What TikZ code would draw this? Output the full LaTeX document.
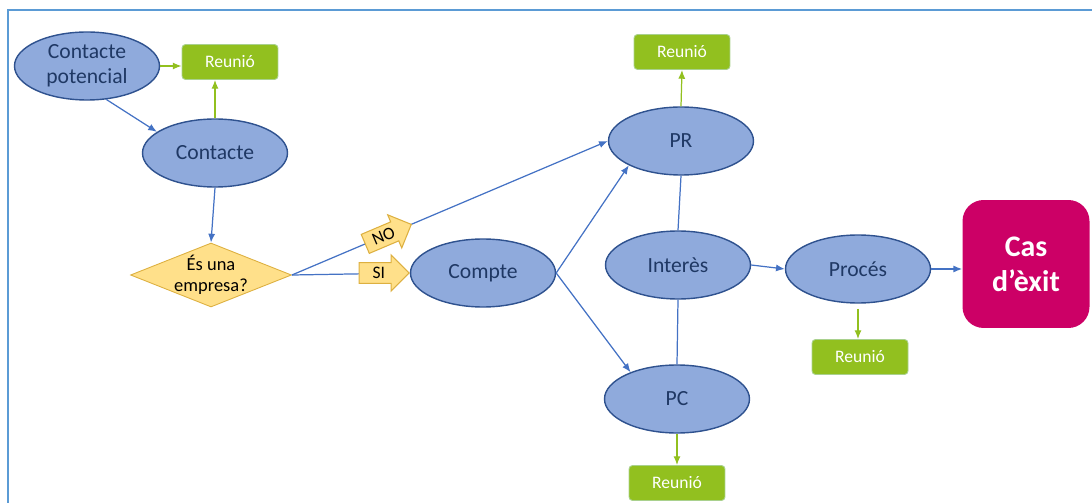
\documentclass[tikz,border=0pt]{standalone}
\usepackage{fontspec}
\setmainfont{Carlito}
\usetikzlibrary{shapes.geometric,shapes.arrows,arrows.meta}
\definecolor{elfill}{HTML}{8FAADC}
\definecolor{elline}{HTML}{2F528F}
\definecolor{eltext}{HTML}{1F3864}
\definecolor{linia}{HTML}{4472C4}
\definecolor{marc}{HTML}{5B9BD5}
\definecolor{verd}{HTML}{92C01F}
\definecolor{verdclar}{HTML}{A9D18E}
\definecolor{groc}{HTML}{FFE08A}
\definecolor{grocfosc}{HTML}{DDB040}
\definecolor{exit}{HTML}{CC0066}

\begin{document}
\begin{tikzpicture}[x=0.02cm,y=-0.02cm,
	bolla/.style={ellipse,draw=elline,fill=elfill,line width=0.8pt,inner sep=0pt,
		minimum width=2.9cm,minimum height=1.36cm,align=center,text=eltext,
		font=\fontsize{12.3}{14}\selectfont},
	reunio/.style={rectangle,rounded corners=2pt,draw=verdclar,fill=verd,line width=0.5pt,
		minimum width=1.92cm,minimum height=0.7cm,text=white,font=\fontsize{10}{11}\selectfont},
	pregunta/.style={diamond,draw=grocfosc,fill=groc,line width=0.5pt,inner sep=-4pt,aspect=2.5,
		minimum width=3.22cm,minimum height=1.28cm,align=center,font=\fontsize{10.5}{12}\selectfont},
	senyal/.style={single arrow,draw=grocfosc,fill=groc,line width=0.6pt,inner sep=1pt,
		minimum height=1.0cm,minimum width=0.72cm,single arrow head extend=0.12cm,
		font=\fontsize{10}{11}\selectfont},
	fletxa/.style={-{Latex[length=5pt,width=4pt]},draw=linia,line width=0.7pt},
	fletxav/.style={-{Latex[length=5pt,width=4pt]},draw=verd,line width=0.7pt},
	unio/.style={draw=linia,line width=0.7pt}]
	\useasboundingbox (0,0) rectangle (1092,503);
	\draw[marc,line width=1.3pt] (8,520) |- (1110,10); %marc

	\node[bolla] at (87,66) (cpot) {Contacte\\potencial};
	\node[bolla] at (215,153) (cont) {Contacte};
	\node[pregunta] at (211,275) (empresa) {És una\\empresa?};
	\node[bolla] at (483,273) (compte) {Compte};
	\node[bolla] at (681,141) (pr) {PR};
	\node[bolla] at (678,265) (interes) {Interès};
	\node[bolla] at (677,399) (pc) {PC};
	\node[bolla] at (858,269) (proces) {Procés};
	\node[rectangle,rounded corners=12pt,fill=exit,minimum width=2.54cm,minimum height=2.56cm,
		text=white,align=center,font=\fontsize{17}{20}\selectfont\bfseries] at (1026,264) (cas) {Cas\\d’èxit};

	\node[reunio] at (230,62) (reu1) {Reunió};
	\node[reunio] at (682,52) (reu2) {Reunió};
	\node[reunio] at (677,483) (reu3) {Reunió};
	\node[reunio] at (860,357) (reu4) {Reunió};

	\draw[fletxav] (cpot.east) -- (cpot.east -| reu1.west);
	\draw[fletxav] (cont.north) -- (cont.north |- reu1.south);
	\draw[fletxa] (cpot.-60) -- (cont.160);
	\draw[fletxa] (cont.south) -- (empresa.north);
	\draw[fletxa] (empresa.east) -- node[senyal,pos=0.29,sloped]{NO} (pr.west);
	\draw[fletxa] (empresa.east) -- node[senyal,pos=1,anchor=tip]{SI} (compte.west);
	\draw[fletxa] (compte.east) -- (pr.205);
	\draw[fletxa] (compte.east) -- (pc.150);
	\draw[fletxav] (pr.north) -- (reu2.south);
	\draw[unio] (pr.south) -- (interes.north);
	\draw[unio] (interes.south) -- (pc.north);
	\draw[fletxav] (pc.south) -- (reu3.north);
	\draw[fletxa] (interes.east) -- (proces.west);
	\draw[fletxav] ([yshift=-3]proces.south) -- (proces.south |- reu4.north);
	\draw[fletxa] (proces.east) -- (proces.east -| cas.west);
\end{tikzpicture}
\end{document}
